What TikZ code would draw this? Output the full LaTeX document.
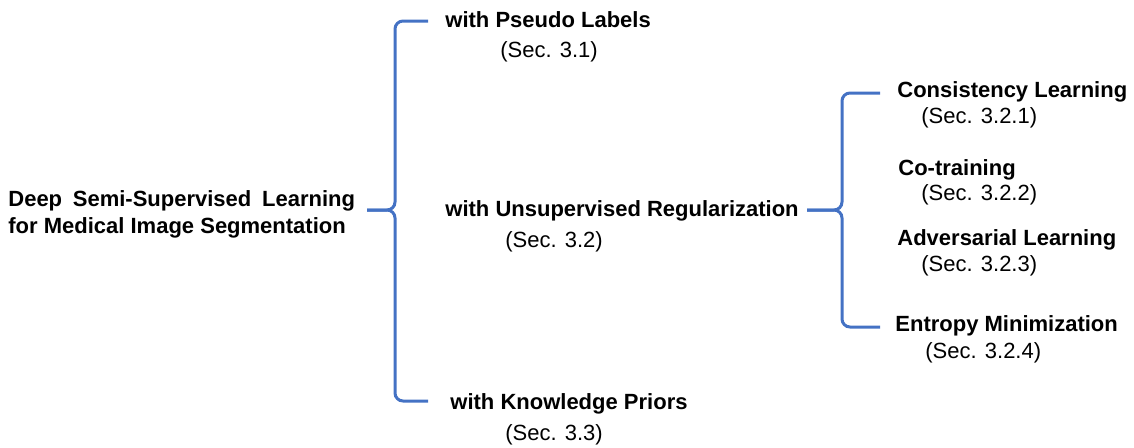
\documentclass[tikz,border=0pt]{standalone}
\usepackage{fontspec}
\setmainfont{Liberation Sans}
\usepackage{tikz}
\usetikzlibrary{calc}
\definecolor{braceblue}{HTML}{4472C4}

\begin{document}
\begin{tikzpicture}[
        x=0.5pt, y=-0.5pt,
        font=\fontsize{11}{13.5}\selectfont,
        topic/.style={anchor=base west, inner sep=0pt, font=\fontsize{11}{13.5}\selectfont\bfseries},
        secref/.style={anchor=base west, inner sep=0pt},
        brace/.style={draw=braceblue, line width=1.5pt, rounded corners=4pt},
    ]
        \useasboundingbox (0,0) rectangle (1134,447);

        % --- root ---
        \node[anchor=west, inner sep=0pt, align=left, font=\fontsize{11}{13.5}\selectfont\bfseries] (root) at (8,214)
            {Deep\hspace{2.3pt} Semi-Supervised\hspace{2.3pt} Learning\\for Medical Image Segmentation};

        % --- first level ---
        \node[topic]  (pseudo)  at (445,27)  {with Pseudo Labels};
        \node[secref] (secA)    at (500,57)  {(Sec. 3.1)};
        \node[topic]  (unsup)   at (445,216) {with Unsupervised Regularization};
        \node[secref] (secB)    at (505,247) {(Sec. 3.2)};
        \node[topic]  (prior)   at (450,409) {with Knowledge Priors};
        \node[secref] (secC)    at (505,440) {(Sec. 3.3)};

        % --- second level ---
        \node[topic]  (consist) at (897,97)  {Consistency Learning};
        \node[secref] (secBa)   at (921,123) {(Sec. 3.2.1)};
        \node[topic]  (cotrain) at (898,175) {Co-training};
        \node[secref] (secBb)   at (921,200) {(Sec. 3.2.2)};
        \node[topic]  (advers)  at (897,245) {Adversarial Learning};
        \node[secref] (secBc)   at (921,271) {(Sec. 3.2.3)};
        \node[topic]  (entropy) at (895,331) {Entropy Minimization};
        \node[secref] (secBd)   at (925,358) {(Sec. 3.2.4)};

        % --- brace ends ---
        \coordinate (tipA) at (367,210);
        \coordinate (topA) at (428,21);
        \coordinate (botA) at (428,401);
        \coordinate (tipB) at (807,210);
        \coordinate (topB) at (880,93);
        \coordinate (botB) at (880,327);

        % root -> first level
        \draw[brace] (topA) -| ($(tipA)+(28,0)$) -- (tipA);
        \draw[brace] (tipA) -- ($(tipA)+(28,0)$) |- (botA);

        % unsupervised -> second level
        \draw[brace] (topB) -| ($(tipB)+(35,0)$) -- (tipB);
        \draw[brace] (tipB) -- ($(tipB)+(35,0)$) |- (botB);

\end{tikzpicture}
\end{document}
